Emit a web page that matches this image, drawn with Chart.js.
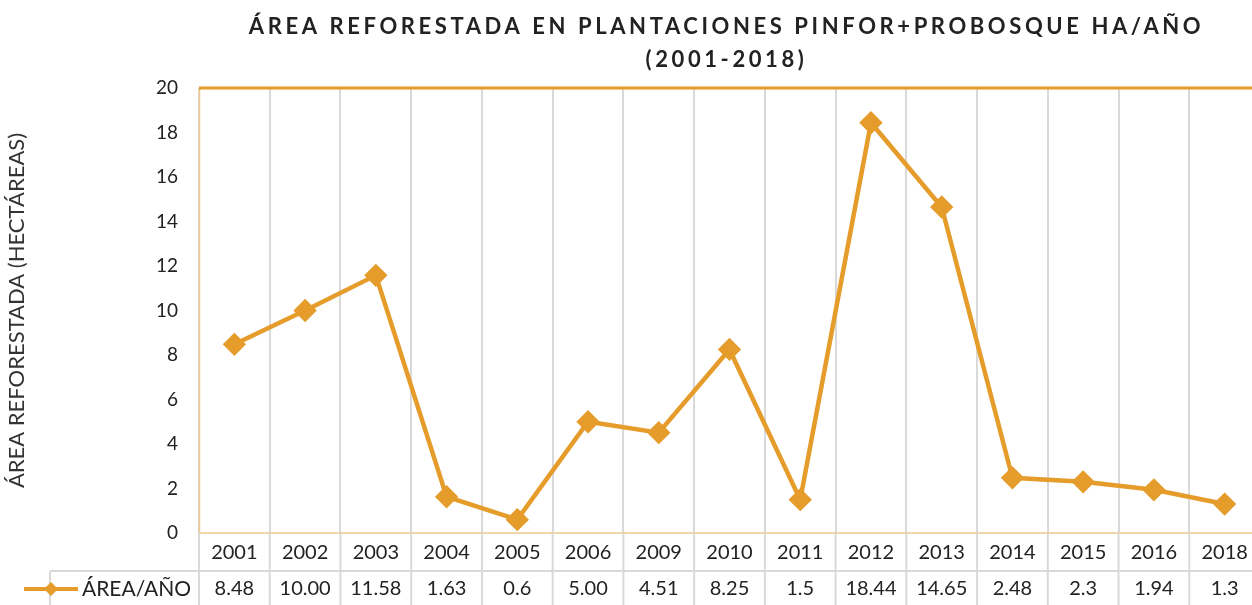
<!DOCTYPE html>
<html>
<head>
<meta charset="utf-8">
<script src="https://cdn.jsdelivr.net/npm/chart.js@4.4.1/dist/chart.umd.min.js"></script>
<style>
  html, body { margin: 0; padding: 0; background: #fff; overflow: hidden; }
  #wrap { width: 1252px; height: 605px; position: relative; overflow: hidden; }
</style>
</head>
<body>
<div id="wrap"><canvas id="reforest-chart"></canvas></div>
<script>
// Área reforestada por año (PINFOR + PROBOSQUE)
const years = ['2001', '2002', '2003', '2004', '2005', '2006', '2009', '2010', '2011', '2012', '2013', '2014', '2015', '2016', '2018'];
const areaValues = [8.48, 10.00, 11.58, 1.63, 0.6, 5.00, 4.51, 8.25, 1.5, 18.44, 14.65, 2.48, 2.3, 1.94, 1.3];
const areaLabels = ['8.48', '10.00', '11.58', '1.63', '0.6', '5.00', '4.51', '8.25', '1.5', '18.44', '14.65', '2.48', '2.3', '1.94', '1.3'];
const seriesName = 'ÁREA/AÑO';
const titleLines = ['ÁREA REFORESTADA EN PLANTACIONES PINFOR+PROBOSQUE HA/AÑO', '(2001-2018)'];
const yTitle = 'ÁREA REFORESTADA (HECTÁREAS)';

const lineColor = 'rgb(229, 156, 42)';
const gridGrey = '#d9d9d9';
const textFont = 'Lato, "Open Sans", sans-serif';

// plugin: bordes, título y tabla de datos
const tablePlugin = {
    id: 'tablePlugin',
    beforeDatasetsDraw(chart) {
        const ctx = chart.ctx;
        const a = chart.chartArea;
        ctx.save();
        ctx.strokeStyle = '#f0c890';
        ctx.lineWidth = 1.5;
        ctx.beginPath();
        ctx.moveTo(a.left + 0.5, a.top);
        ctx.lineTo(a.left + 0.5, a.bottom);
        ctx.lineTo(a.right, a.bottom);
        ctx.stroke();
        ctx.strokeStyle = lineColor;
        ctx.lineWidth = 3;
        ctx.beginPath();
        ctx.moveTo(a.left, a.top);
        ctx.lineTo(a.right, a.top);
        ctx.stroke();
        ctx.restore();
    },
    afterDraw(chart) {
        const ctx = chart.ctx;
        const a = chart.chartArea;
        const x = chart.scales.x;
        const half = (x.getPixelForValue(1) - x.getPixelForValue(0)) / 2;
        const rowMid = a.bottom + 38;
        const rowBot = a.bottom + 76;
        const legendLeft = 50;
        ctx.save();

        // líneas de la tabla
        ctx.strokeStyle = gridGrey;
        ctx.lineWidth = 2;
        ctx.beginPath();
        years.forEach((y, i) => {
            const px = x.getPixelForValue(i) + half;
            ctx.moveTo(px, a.bottom);
            ctx.lineTo(px, rowBot);
        });
        ctx.moveTo(a.left, a.bottom);
        ctx.lineTo(a.left, rowBot);
        ctx.moveTo(legendLeft, rowMid);
        ctx.lineTo(legendLeft, rowBot);
        ctx.moveTo(legendLeft, rowMid);
        ctx.lineTo(a.right, rowMid);
        ctx.stroke();

        // textos
        ctx.fillStyle = '#222';
        ctx.font = '20px ' + textFont;
        ctx.textAlign = 'center';
        ctx.textBaseline = 'middle';
        years.forEach((y, i) => {
            const px = x.getPixelForValue(i);
            ctx.fillText(y, px, a.bottom + 20);
            ctx.fillText(areaLabels[i], px, rowMid + 18);
        });

        // leyenda
        ctx.strokeStyle = lineColor;
        ctx.lineWidth = 4;
        ctx.beginPath();
        ctx.moveTo(24, rowMid + 18);
        ctx.lineTo(78, rowMid + 18);
        ctx.stroke();
        ctx.fillStyle = lineColor;
        ctx.beginPath();
        ctx.moveTo(51, rowMid + 11);
        ctx.lineTo(58, rowMid + 18);
        ctx.lineTo(51, rowMid + 25);
        ctx.lineTo(44, rowMid + 18);
        ctx.closePath();
        ctx.fill();
        ctx.fillStyle = '#222';
        ctx.textAlign = 'left';
        ctx.font = '21px ' + textFont;
        ctx.fillText(seriesName, 82, rowMid + 18);

        // título
        ctx.fillStyle = '#222';
        ctx.font = 'bold 22px ' + textFont;
        ctx.textAlign = 'center';
        ctx.letterSpacing = '3.6px';
        const cx = (a.left + a.right) / 2 - 3;
        ctx.fillText(titleLines[0], cx, 27);
        ctx.fillText(titleLines[1], cx, 60);
        ctx.restore();
    }
};

const chartData = {
    labels: years,
    datasets: [
        {
            label: seriesName,
            data: areaValues,
            borderColor: lineColor,
            backgroundColor: lineColor,
            borderWidth: 4.5,
            pointStyle: 'rectRot',
            pointRadius: 8.5,
            pointHoverRadius: 8.5,
            tension: 0
        }
    ]
};

const chartConfig = {
    type: 'line',
    data: chartData,
    plugins: [tablePlugin],
    options: {
        responsive: false,
        animation: false,
        layout: {
            autoPadding: false,
            padding: { top: 88, right: 0, left: 0, bottom: 0 }
        },
        plugins: {
            legend: { display: false },
            title: { display: false },
            tooltip: { enabled: false }
        },
        scales: {
            x: {
                offset: true,
                grid: {
                    offset: true,
                    color: gridGrey,
                    lineWidth: 2,
                    drawTicks: false
                },
                border: { display: false },
                ticks: { display: false },
                afterFit(scale) { scale.height = 72; }
            },
            y: {
                min: 0,
                max: 20,
                ticks: {
                    stepSize: 2,
                    padding: 21,
                    color: '#222',
                    font: { family: textFont, size: 19 }
                },
                grid: { display: false, drawTicks: false },
                border: { display: false },
                title: {
                    display: true,
                    text: yTitle,
                    color: '#333',
                    font: { family: textFont, size: 22 },
                    padding: { top: 4, bottom: 0 }
                },
                afterFit(scale) { scale.width = 199; }
            }
        }
    }
};

// el área de trazado se extiende un poco más allá del borde derecho, como en el original
const canvas = document.getElementById('reforest-chart');
canvas.width = 1260;
canvas.height = 605;
const reforestChart = new Chart(canvas, chartConfig);
</script>
</body>
</html>
